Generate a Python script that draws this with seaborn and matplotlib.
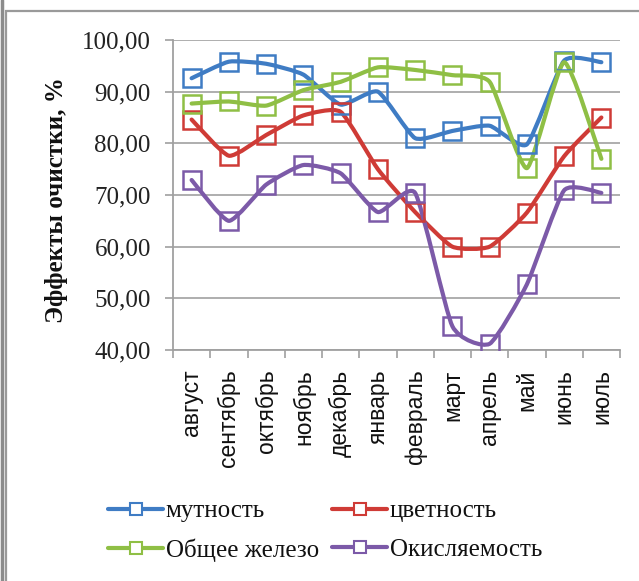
import numpy as np
import pandas as pd
import matplotlib
matplotlib.use("Agg")
import matplotlib.pyplot as plt
from matplotlib.path import Path
from matplotlib.patches import PathPatch, Rectangle
from matplotlib.lines import Line2D
import seaborn as sns

months = ["август", "сентябрь", "октябрь", "ноябрь", "декабрь", "январь",
          "февраль", "март", "апрель", "май", "июнь", "июль"]
mutnost = [92.6, 95.8, 95.4, 93.3, 87.5, 90.0, 81.0, 82.4, 83.4, 79.8, 96.0, 95.7]
cvetnost = [84.6, 77.6, 81.6, 85.4, 86.1, 75.0, 66.7, 60.0, 60.0, 66.6, 77.5, 85.0]
zhelezo = [87.7, 88.1, 87.3, 90.3, 91.9, 94.7, 94.2, 93.2, 91.9, 75.2, 95.7, 77.0]
okisl = [72.9, 65.0, 72.0, 75.8, 74.2, 66.7, 70.4, 44.6, 41.2, 52.7, 70.9, 70.4]
series_names = ["мутность", "цветность", "Общее железо", "Окисляемость"]
series_values = [mutnost, cvetnost, zhelezo, okisl]
colors = ["#3f7cc4", "#cf3b36", "#8fbf45", "#7c5aa8"]
y_ticks = [40, 50, 60, 70, 80, 90, 100]

sns.set_theme(style="white")
plt.rcParams["font.family"] = ["Liberation Serif", "DejaVu Serif"]

W, H = 639, 581
fig = plt.figure(figsize=(W / 100, H / 100), dpi=100)
ax = fig.add_axes([173 / W, 1 - 350 / H, (620 - 173) / W, (350 - 40) / H])

x = np.arange(len(months))


def smooth_path(xs, ys, k=0.09):
    """Smoothed polyline: Catmull-Rom style segments as cubic Beziers."""
    pts = np.column_stack([xs, ys]).astype(float)
    n = len(pts)
    verts = [pts[0]]
    codes = [Path.MOVETO]
    for i in range(n - 1):
        p0 = pts[i - 1] if i > 0 else pts[i]
        p1, p2 = pts[i], pts[i + 1]
        p3 = pts[i + 2] if i + 2 < n else pts[i + 1]
        c1 = p1 + (p2 - p0) * k
        c2 = p2 - (p3 - p1) * k
        verts += [c1, c2, p2]
        codes += [Path.CURVE4] * 3
    return Path(verts, codes)


handles = {}
for name, vals, col in zip(series_names, series_values, colors):
    ax.add_patch(PathPatch(smooth_path(x, vals), facecolor="none",
                           edgecolor=col, lw=3.0, capstyle="round",
                           joinstyle="round", zorder=3))
    df = pd.DataFrame({"month": x, "value": vals})
    sns.lineplot(data=df, x="month", y="value", ax=ax, color=col,
                 linestyle="", marker="s", markersize=13,
                 markerfacecolor="none", markeredgecolor=col,
                 markeredgewidth=1.8, zorder=4)
    handles[name] = Line2D([0], [0], color=col, lw=3.0, marker="s",
                           markersize=9, markerfacecolor="white",
                           markeredgecolor=col, markeredgewidth=1.5)

ax.set_xlim(-0.5, len(months) - 0.5)
ax.set_ylim(40, 100)
ax.set_yticks(y_ticks)
ax.set_yticklabels([f"{v:.2f}".replace(".", ",") for v in y_ticks],
                   fontsize=18, color="#222222")
ax.set_xticks(x)
ax.set_xticklabels(months, rotation=90, fontsize=16.5,
                   family=["Liberation Sans", "DejaVu Sans"], color="#111111")
ax.set_xticks(np.arange(-0.5, len(months)), minor=True)
ax.tick_params(axis="x", which="major", length=0, pad=14)
ax.tick_params(axis="x", which="minor", length=6, width=1.2,
               color="#a0a0a0", direction="out", bottom=True)
ax.tick_params(axis="y", which="major", length=6, width=1.2,
               color="#a0a0a0", direction="out", left=True, pad=10)
for lbl in ax.get_xticklabels():
    lbl.set_va("top")

ax.grid(axis="y", color="#a8a8a8", lw=1.3)
ax.grid(axis="x", visible=False)
for side in ["top", "right"]:
    ax.spines[side].set_visible(False)
for side in ["left", "bottom"]:
    ax.spines[side].set_color("#a0a0a0")
    ax.spines[side].set_linewidth(1.3)
ax.set_xlabel("")
ax.set_ylabel("")
fig.text(57 / W, 1 - 200 / H, "Эффекты очистки, %", rotation=90,
         fontsize=18, fontweight="bold", ha="center", va="center",
         color="#111111")

# legend filled row by row: (мутность, цветность), (Общее железо, Окисляемость)
order = ["мутность", "Общее железо", "цветность", "Окисляемость"]
fig.legend([handles[n] for n in order], order, ncol=2, frameon=False,
           prop={"family": "Liberation Serif", "size": 18},
           loc="upper left", bbox_to_anchor=(98 / W, 1 - 490 / H),
           handlelength=2.2, handletextpad=0.1, columnspacing=0.55,
           labelspacing=0.62, borderaxespad=0, labelcolor="#111111")

# outer frame
fig.add_artist(Rectangle((6 / W, -0.05), 1.2, 1 - 11 / H + 0.05,
                         transform=fig.transFigure, fill=False,
                         edgecolor="#9a9a9a", lw=1.6))
fig.add_artist(Line2D([1.5 / W, 1.5 / W], [0, 1], transform=fig.transFigure,
                      color="#8c8c8c", lw=2.5))

fig.savefig("out.png", dpi=100)
